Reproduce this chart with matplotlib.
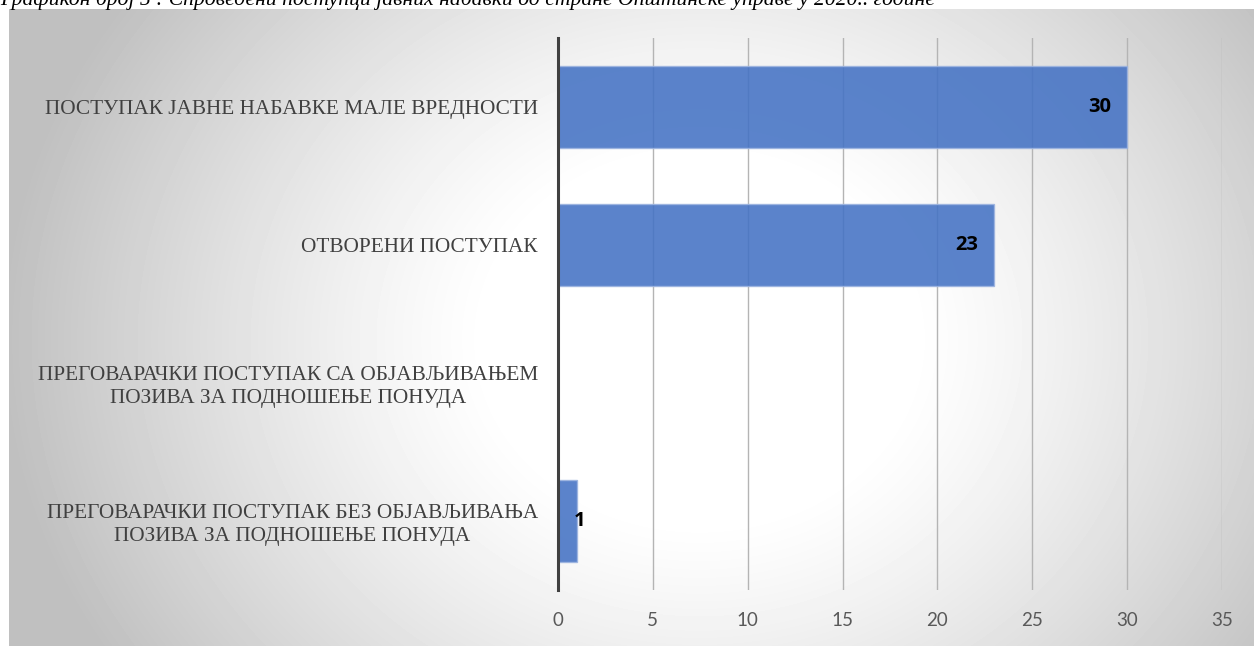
import numpy as np
import matplotlib.pyplot as plt

categories = [
    'ПОСТУПАК ЈАВНЕ НАБАВКЕ МАЛЕ ВРЕДНОСТИ',
    'ОТВОРЕНИ ПОСТУПАК',
    'ПРЕГОВАРАЧКИ ПОСТУПАК СА ОБЈАВЉИВАЊЕМ\nПОЗИВА ЗА ПОДНОШЕЊЕ ПОНУДА',
    'ПРЕГОВАРАЧКИ ПОСТУПАК БЕЗ ОБЈАВЉИВАЊА\nПОЗИВА ЗА ПОДНОШЕЊЕ ПОНУДА',
]
values = [30, 23, 0, 1]
x_ticks = [0, 5, 10, 15, 20, 25, 30, 35]
title = ('Графикон број 5 : Спроведени поступци јавних набавки од стране '
         'Општинске управе у 2020.. године')

W, H = 1254, 646
fig = plt.figure(figsize=(W / 100, H / 100), dpi=100)
fig.patch.set_facecolor('white')

# radial grey-to-white background of the chart box
bx0, by_top = 9, 9
bg = fig.add_axes([bx0 / W, 0, 1 - bx0 / W, 1 - by_top / H])
bw, bh = W - bx0, H - by_top
yy, xx = np.mgrid[0:bh, 0:bw]
r = np.sqrt(((xx - 690) / 700.0) ** 2 + ((yy - 330) / 600.0) ** 2)
t = np.clip((r - 0.3) / 0.7, 0, 1) ** 1.2
shade = 1 - 0.25 * t
bg.imshow(shade, cmap='gray', vmin=0, vmax=1, aspect='auto',
          interpolation='bilinear')
bg.set_axis_off()

fig.text(0.0, 1 - 5 / H, title, ha='left', va='baseline', fontsize=15.6,
         style='italic', family='Liberation Serif', color='black')

ax = fig.add_axes([558 / W, 1 - 590 / H, (1222 - 558) / W, (590 - 38) / H])
ax.patch.set_alpha(0)
y = np.arange(len(categories))
ax.set_axisbelow(True)
ax.grid(axis='x', color='#b4b4b4', linewidth=1)
ax.barh(y, values, height=0.6, color='#4472C4', alpha=0.88,
        edgecolor='#9db4e0', linewidth=1, zorder=2)

for yi, v in zip(y, values):
    if v == 0:
        continue
    if v < 3:
        ax.annotate(str(v), (v, yi), xytext=(-2.5, 0), textcoords='offset points',
                    ha='left', va='center', fontsize=14.5, fontweight='bold',
                    family='Open Sans', color='black', zorder=3)
    else:
        ax.annotate(str(v), (v, yi), xytext=(-11.5, 0), textcoords='offset points',
                    ha='right', va='center', fontsize=14.5, fontweight='bold',
                    family='Open Sans', color='black', zorder=3)

ax.set_xlim(0, 35)
ax.set_ylim(len(categories) - 0.5, -0.5)
ax.set_xticks(x_ticks)
ax.set_xticklabels([str(v) for v in x_ticks], family='Lato', fontsize=13.5,
                   color='#595959')
ax.set_yticks(y)
ax.set_yticklabels(categories, family='Liberation Serif', fontsize=15.3,
                   color='#404040', linespacing=1.25)
for lab in ax.get_yticklabels():
    lab.set_multialignment('center')
ax.tick_params(axis='x', length=0, pad=16)
ax.tick_params(axis='y', length=0, pad=14.5)
for s in ['top', 'right', 'bottom']:
    ax.spines[s].set_visible(False)
ax.spines['left'].set_color('#404040')
ax.spines['left'].set_linewidth(2.2)

fig.savefig('out.png', dpi=100)
